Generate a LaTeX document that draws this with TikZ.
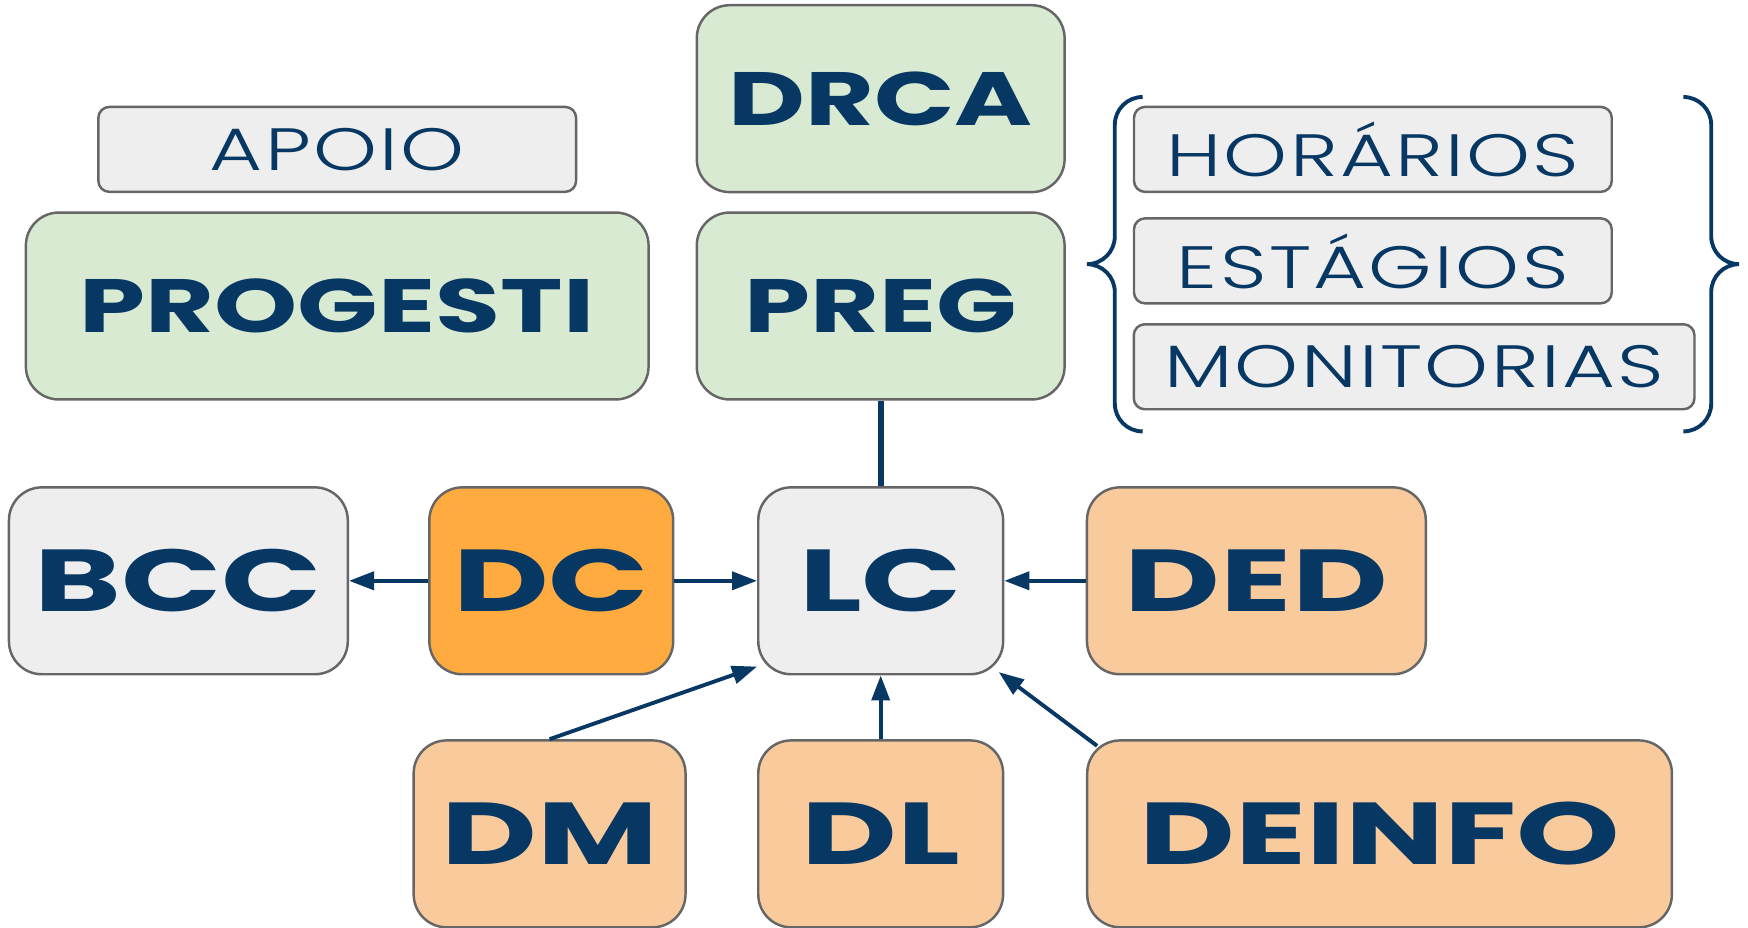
\documentclass[tikz,border=0pt]{standalone}
\usepackage{fontspec}
\setmainfont{Poppins}[FakeStretch=1.5,UprightFont=* Bold]
\newfontfamily\greenfont{Poppins}[FakeStretch=1.4,UprightFont=* Bold]
\newfontfamily\thinfont{Poppins Light}[FakeStretch=1.36,LetterSpace=4]
\usepackage{tikz}
\usetikzlibrary{calc}
\usetikzlibrary{arrows.meta}

\definecolor{navy}{HTML}{073763}
\definecolor{edge}{HTML}{666666}
\definecolor{lgreen}{HTML}{D9EAD3}
\definecolor{lgray}{HTML}{EEEEEE}
\definecolor{dorange}{HTML}{FFAB40}
\definecolor{lorange}{HTML}{F9CB9C}

\tikzset{
  big/.style={draw=edge,line width=0.7pt,rounded corners=0.33cm,text=navy,
    minimum height=1.87cm,inner sep=0pt,font=\fontsize{25}{25}\selectfont},
  top/.style={big,fill=lgreen,font=\greenfont\fontsize{21.5}{21.5}\selectfont},
  tag/.style={draw=edge,line width=0.7pt,rounded corners=0.11cm,text=navy,fill=lgray,
    minimum height=0.85cm,inner sep=0pt,text depth=-2pt,font=\thinfont\fontsize{17}{17}\selectfont},
  link/.style={navy,line width=1.1pt,-{Triangle[length=2.5mm,width=1.8mm]}}
}

\begin{document}
\begin{tikzpicture}[x=0.011148cm,y=-0.011148cm]

\useasboundingbox (0,0) rectangle (1568,832);

\node[top,minimum width=3.68cm] (drca) at (790,88.5) {DRCA};
\node[top,minimum width=3.68cm] (preg) at (790,274.5) {PREG};
\node[top,minimum width=6.23cm] (progesti) at (302.5,274.5) {PROGESTI};
\node[tag,minimum width=4.78cm] (apoio) at (302.5,134) {APOIO};

\node[tag,minimum width=4.78cm] (horarios) at (1231.5,134) {HORÁRIOS};
\node[tag,minimum width=4.78cm] (estagios) at (1231.5,234) {ESTÁGIOS};
\node[tag,minimum width=5.61cm] (monitorias) at (1268.5,329) {MONITORIAS};

\draw[navy,line width=1.1pt] (1025,87) to[out=180,in=90] (1000,112) -- (1000,212)
  to[out=-90,in=0] (975,237) to[out=0,in=90] (1000,262) -- (1000,362) to[out=-90,in=180] (1025,387);
\draw[navy,line width=1.1pt] (1510,87) to[out=0,in=90] (1535,112) -- (1535,212)
  to[out=-90,in=180] (1560,237) to[out=180,in=90] (1535,262) -- (1535,362) to[out=-90,in=0] (1510,387);

\node[big,fill=lgray,minimum width=3.39cm] (bcc) at (160,521) {BCC};
\node[big,fill=dorange,minimum width=2.44cm] (dc) at (494.5,521) {DC};
\node[big,fill=lgray,minimum width=2.45cm] (lc) at (790,521) {LC};
\node[big,fill=lorange,minimum width=3.39cm] (ded) at (1127,521) {DED};

\node[big,fill=lorange,minimum width=2.72cm] (dm) at (493,748) {DM};
\node[big,fill=lorange,minimum width=2.45cm] (dl) at (790,748) {DL};
\node[big,fill=lorange,minimum width=5.85cm] (deinfo) at (1237.5,748) {DEINFO};

\draw[navy,line width=1.6pt] (preg.south) -- (lc.north);
\draw[link] (dc.west) -- (bcc.east);
\draw[link] (dc.east) -- (lc.west);
\draw[link] (ded.west) -- (lc.east);
\draw[link] (dl.north) -- (lc.south);
\draw[link] (dm.north) -- ($(lc.south west)+(0,-8)$);
\draw[link] ($(deinfo.north west)+(10,6)$) -- ($(lc.south east)+(-5,-3)$);

\end{tikzpicture}
\end{document}
